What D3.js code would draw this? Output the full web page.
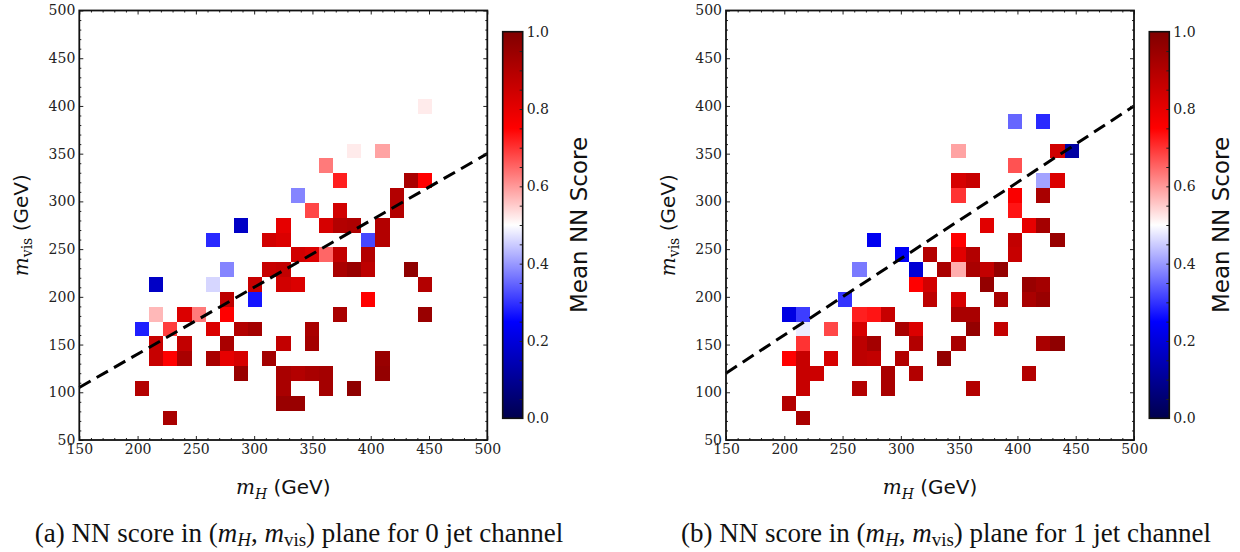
<!DOCTYPE html>
<html>
<head>
<meta charset="utf-8">
<script src="https://cdn.jsdelivr.net/npm/d3@7"></script>
<style>
  body { margin: 0; background: #fff; }
</style>
</head>
<body>
<svg id="chart" width="1240" height="552"></svg>
<script>
// histogram binning (GeV)
const mHBinStart = 197.8, mHBinWidth = 12.13;
const mVisBinStart = 65.2, mVisBinWidth = 15.55;

// [mH bin index, mvis bin index, mean NN score]
const cells0Jet = [
    [1, 9, 0.17], [5, 12, 0.29], [7, 13, 0.17], [6, 10, 0.38], [5, 9, 0.46], [8, 9, 0.86], [6, 8, 0.88], [8, 8, 0.27],
    [1, 7, 0.57], [3, 7, 0.82], [4, 7, 0.63], [6, 7, 0.75],
    [0, 6, 0.28], [2, 6, 0.69], [5, 6, 0.82], [7, 6, 0.9], [8, 6, 0.93],
    [1, 5, 0.86], [3, 5, 0.87], [6, 5, 0.92],
    [1, 4, 0.86], [2, 4, 0.75], [3, 4, 0.92], [5, 4, 0.92], [6, 4, 0.8], [7, 4, 0.83],
    [7, 3, 0.95], [0, 2, 0.9], [2, 0, 0.92],
    [10, 13, 0.8], [13, 13, 0.83], [14, 13, 0.9], [15, 13, 0.91], [17, 13, 0.9],
    [9, 12, 0.84], [10, 12, 0.82], [16, 12, 0.32], [17, 12, 0.9],
    [11, 11, 0.84], [12, 11, 0.82], [13, 11, 0.65], [14, 11, 0.87], [16, 11, 0.9],
    [9, 10, 0.86], [10, 10, 0.87], [14, 10, 0.92], [15, 10, 0.95], [16, 10, 0.88], [19, 10, 0.97],
    [10, 9, 0.84], [11, 9, 0.82], [20, 9, 0.9],
    [16, 8, 0.75],
    [14, 7, 0.92], [20, 7, 0.95],
    [12, 6, 0.92],
    [10, 5, 0.87], [12, 5, 0.93],
    [9, 4, 0.93], [17, 4, 0.95],
    [10, 3, 0.92], [11, 3, 0.9], [12, 3, 0.92], [13, 3, 0.93], [17, 3, 0.96],
    [10, 2, 0.92], [13, 2, 0.93], [15, 2, 0.97],
    [10, 1, 0.95], [11, 1, 0.95],
    [20, 21, 0.52], [15, 18, 0.52], [17, 18, 0.59], [13, 17, 0.63], [14, 16, 0.72], [19, 16, 0.92], [20, 16, 0.75],
    [11, 15, 0.38], [18, 15, 0.9], [12, 14, 0.68], [14, 14, 0.84], [18, 14, 0.9]
];

const cells1Jet = [
    [6, 12, 0.23], [8, 11, 0.24], [5, 10, 0.37], [4, 8, 0.3], [0, 7, 0.21], [1, 7, 0.31], [5, 7, 0.72], [6, 7, 0.73], [7, 7, 0.86],
    [1, 6, 0.48], [3, 6, 0.68], [5, 6, 0.83], [8, 6, 0.92],
    [1, 5, 0.7], [5, 5, 0.88], [6, 5, 0.93],
    [0, 4, 0.75], [1, 4, 0.86], [3, 4, 0.83], [5, 4, 0.88], [6, 4, 0.87], [8, 4, 0.9],
    [1, 3, 0.86], [2, 3, 0.85], [7, 3, 0.92],
    [1, 2, 0.86], [5, 2, 0.9], [7, 2, 0.92],
    [0, 1, 0.9], [1, 0, 0.92],
    [12, 12, 0.75], [16, 12, 0.87], [19, 12, 0.95],
    [10, 11, 0.9], [12, 11, 0.81], [13, 11, 0.9], [16, 11, 0.86],
    [9, 10, 0.19], [11, 10, 0.92], [12, 10, 0.58], [13, 10, 0.92], [14, 10, 0.87], [15, 10, 0.96],
    [9, 9, 0.75], [10, 9, 0.84], [14, 9, 0.96], [17, 9, 0.95], [18, 9, 0.93],
    [10, 8, 0.88], [12, 8, 0.83], [15, 8, 0.92], [17, 8, 0.92], [18, 8, 0.95],
    [12, 7, 0.92], [13, 7, 0.92],
    [9, 6, 0.82], [13, 6, 0.96], [15, 6, 0.87],
    [9, 5, 0.9], [12, 5, 0.92], [18, 5, 0.92], [19, 5, 0.97],
    [11, 4, 0.96], [9, 3, 0.9], [17, 3, 0.9], [13, 2, 0.9],
    [16, 20, 0.35], [18, 20, 0.29], [12, 18, 0.59], [19, 18, 0.84], [20, 18, 0.12], [16, 17, 0.67],
    [12, 16, 0.83], [13, 16, 0.86], [18, 16, 0.41], [19, 16, 0.82],
    [12, 15, 0.7], [16, 15, 0.76], [18, 15, 0.92], [16, 14, 0.73],
    [14, 13, 0.81], [17, 13, 0.8], [18, 13, 0.93]
];

const xTicks = [150, 200, 250, 300, 350, 400, 450, 500];
const yTicks = [50, 100, 150, 200, 250, 300, 350, 400, 450, 500];
const cbTicks = [0, 0.2, 0.4, 0.6, 0.8, 1.0];
const cutSlopes = [0.7, 0.8];      // dashed line m_vis = slope * m_H
const captionLetters = ["(a)", "(b)"];
const jetCounts = ["0", "1"];

const svg = d3.select("#chart");

// matplotlib "seismic"
const seismic = d3.scaleLinear()
    .domain([0, 0.25, 0.5, 0.75, 1])
    .range(["rgb(0,0,77)", "rgb(0,0,255)", "rgb(255,255,255)", "rgb(255,0,0)", "rgb(128,0,0)"])
    .clamp(true);

const plotTop = 10.5, plotBottom = 440, plotW = 408;
const cbTop = 31.7, cbBottom = 418.3, cbW = 20;
const tickFont = "'DejaVu Serif', serif";
const labelFont = "'DejaVu Sans', sans-serif";

const panels = [
    { cells: cells0Jet, left: 79.3, cbLeft: 502.7, cbLabelX: 587, captionX: 299 },
    { cells: cells1Jet, left: 726, cbLeft: 1149.3, cbLabelX: 1229, captionX: 946 }
];

const defs = svg.append("defs");
const grad = defs.append("linearGradient").attr("id", "seismicGrad")
    .attr("x1", 0).attr("y1", 1).attr("x2", 0).attr("y2", 0);
d3.range(0, 1.0001, 0.05).forEach(t => {
    grad.append("stop").attr("offset", t).attr("stop-color", seismic(t));
});

function styleTicks(sel) {
    sel.select(".domain").remove();
    sel.selectAll(".tick line").attr("stroke", "#222").attr("stroke-width", 1);
    sel.selectAll(".tick text").attr("font-family", tickFont).attr("font-size", 14).attr("fill", "#222");
}

panels.forEach((p, i) => {
    const g = svg.append("g");
    const x = d3.scaleLinear().domain([150, 500]).range([p.left, p.left + plotW]);
    const y = d3.scaleLinear().domain([50, 500]).range([plotBottom, plotTop]);

    const binX = k => x(mHBinStart + k * mHBinWidth);
    const binY = r => y(mVisBinStart + r * mVisBinWidth);

    // cells
    g.append("g")
        .selectAll("rect")
        .data(p.cells)
        .join("rect")
        .attr("x", d => binX(d[0]))
        .attr("width", d => binX(d[0] + 1) - binX(d[0]))
        .attr("y", d => binY(d[1] + 1))
        .attr("height", d => binY(d[1]) - binY(d[1] + 1))
        .attr("fill", d => seismic(d[2]))
        .attr("shape-rendering", "crispEdges");

    // cut line
    const slope = cutSlopes[i];
    g.append("path")
        .datum([150, 500])
        .attr("d", d3.line().x(d => x(d)).y(d => y(slope * d)))
        .attr("fill", "none")
        .attr("stroke", "#000")
        .attr("stroke-width", 3)
        .attr("stroke-dasharray", "13,7");

    const xMinor = d3.range(150, 501, 10).filter(v => v % 50 !== 0);
    const yMinor = d3.range(50, 501, 10).filter(v => v % 50 !== 0);

    // bottom axis with labels
    g.append("g").attr("transform", `translate(0,${plotBottom})`)
        .call(d3.axisBottom(x).tickValues(xTicks).tickSizeInner(-4).tickSizeOuter(0).tickPadding(4).tickFormat(d3.format("d")))
        .call(styleTicks);
    g.append("g").attr("transform", `translate(0,${plotBottom})`)
        .call(d3.axisBottom(x).tickValues(xMinor).tickSizeInner(-2).tickSizeOuter(0).tickFormat(""))
        .call(styleTicks);
    // top
    g.append("g").attr("transform", `translate(0,${plotTop})`)
        .call(d3.axisTop(x).tickValues(xTicks).tickSizeInner(-4).tickSizeOuter(0).tickFormat(""))
        .call(styleTicks);
    g.append("g").attr("transform", `translate(0,${plotTop})`)
        .call(d3.axisTop(x).tickValues(xMinor).tickSizeInner(-2).tickSizeOuter(0).tickFormat(""))
        .call(styleTicks);
    // left axis with labels
    g.append("g").attr("transform", `translate(${p.left},0)`)
        .call(d3.axisLeft(y).tickValues(yTicks).tickSizeInner(-4).tickSizeOuter(0).tickPadding(4).tickFormat(d3.format("d")))
        .call(styleTicks);
    g.append("g").attr("transform", `translate(${p.left},0)`)
        .call(d3.axisLeft(y).tickValues(yMinor).tickSizeInner(-2).tickSizeOuter(0).tickFormat(""))
        .call(styleTicks);
    // right
    g.append("g").attr("transform", `translate(${p.left + plotW},0)`)
        .call(d3.axisRight(y).tickValues(yTicks).tickSizeInner(-4).tickSizeOuter(0).tickFormat(""))
        .call(styleTicks);
    g.append("g").attr("transform", `translate(${p.left + plotW},0)`)
        .call(d3.axisRight(y).tickValues(yMinor).tickSizeInner(-2).tickSizeOuter(0).tickFormat(""))
        .call(styleTicks);

    // frame
    g.append("rect")
        .attr("x", p.left).attr("y", plotTop)
        .attr("width", plotW).attr("height", plotBottom - plotTop)
        .attr("fill", "none").attr("stroke", "#111").attr("stroke-width", 1.8);

    // axis labels
    const xl = g.append("text")
        .attr("x", (x.range()[0] + x.range()[1]) / 2)
        .attr("y", 494)
        .attr("text-anchor", "middle")
        .attr("font-size", 20)
        .attr("fill", "#111");
    xl.append("tspan").attr("font-family", tickFont).attr("font-style", "italic").text("m");
    xl.append("tspan").attr("font-family", tickFont).attr("font-style", "italic").attr("font-size", 14).attr("dy", 5).text("H");
    xl.append("tspan").attr("font-family", labelFont).attr("dy", -5).text(" (GeV)");

    const yl = g.append("text")
        .attr("transform", `translate(${p.left - 51},${(plotTop + plotBottom) / 2}) rotate(-90)`)
        .attr("text-anchor", "middle")
        .attr("font-size", 20)
        .attr("fill", "#111");
    yl.append("tspan").attr("font-family", tickFont).attr("font-style", "italic").text("m");
    yl.append("tspan").attr("font-family", tickFont).attr("font-size", 14).attr("dy", 4).text("vis");
    yl.append("tspan").attr("font-family", labelFont).attr("dy", -4).text(" (GeV)");

    // colorbar
    const cb = svg.append("g");
    const cy = d3.scaleLinear().domain([0, 1]).range([cbBottom, cbTop]);
    cb.append("rect")
        .attr("x", p.cbLeft).attr("y", cbTop)
        .attr("width", cbW).attr("height", cbBottom - cbTop)
        .attr("fill", "url(#seismicGrad)");
    cb.append("g").attr("transform", `translate(${p.cbLeft + cbW},0)`)
        .call(d3.axisRight(cy).tickValues(d3.range(0.05, 1, 0.05)).tickSizeInner(-3).tickSizeOuter(0).tickFormat(""))
        .call(styleTicks);
    cb.append("g").attr("transform", `translate(${p.cbLeft + cbW},0)`)
        .call(d3.axisRight(cy).tickValues(cbTicks).tickSizeInner(0).tickSizeOuter(0).tickPadding(4).tickFormat(d3.format(".1f")))
        .call(styleTicks);
    cb.append("rect")
        .attr("x", p.cbLeft).attr("y", cbTop)
        .attr("width", cbW).attr("height", cbBottom - cbTop)
        .attr("fill", "none").attr("stroke", "#111").attr("stroke-width", 1.6);
    cb.append("text")
        .attr("transform", `translate(${p.cbLabelX},${(cbTop + cbBottom) / 2}) rotate(-90)`)
        .attr("text-anchor", "middle")
        .attr("font-family", labelFont)
        .attr("font-size", 23)
        .attr("fill", "#111")
        .text("Mean NN Score");

    // caption
    const cap = svg.append("text")
        .attr("x", p.captionX).attr("y", 542)
        .attr("text-anchor", "middle")
        .attr("font-family", "'Liberation Serif', 'Times New Roman', serif")
        .attr("font-size", 27)
        .attr("fill", "#111");
    cap.append("tspan").text(captionLetters[i] + " NN score in (");
    cap.append("tspan").attr("font-style", "italic").text("m");
    cap.append("tspan").attr("font-style", "italic").attr("font-size", 19).attr("dy", 4).text("H");
    cap.append("tspan").attr("dy", -4).text(", ");
    cap.append("tspan").attr("font-style", "italic").text("m");
    cap.append("tspan").attr("font-size", 19).attr("dy", 4).text("vis");
    cap.append("tspan").attr("dy", -4).text(") plane for " + jetCounts[i] + " jet channel");
});
</script>
</body>
</html>
